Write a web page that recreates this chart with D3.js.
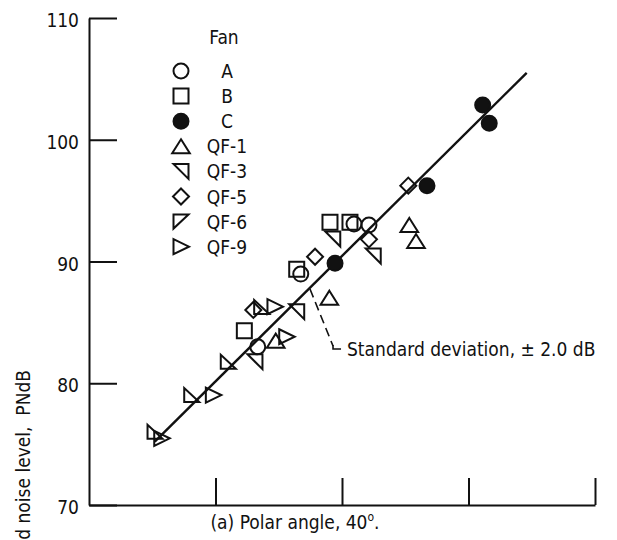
<!DOCTYPE html>
<html>
<head>
<meta charset="utf-8">
<script src="https://cdn.jsdelivr.net/npm/d3@7"></script>
<style>
  html, body { margin: 0; padding: 0; background: #fff; }
  svg { display: block; }
  text { font-family: "DejaVu Sans Condensed", "DejaVu Sans", "Liberation Sans Narrow", sans-serif; font-stretch: condensed; fill: #111; }
</style>
</head>
<body>
<script>
// ---- data ----
const fanNames = ["A", "B", "C", "QF-1", "QF-3", "QF-5", "QF-6", "QF-9"];
const fanA   = [[90.95, 93.08], [92.13, 93.0], [86.74, 88.97], [83.34, 83.0]];
const fanB   = [[89.05, 93.22], [90.63, 93.22], [86.42, 89.36], [82.28, 84.32]];
const fanC   = [[96.72, 96.23], [89.45, 89.85], [101.12, 102.85], [101.64, 101.35]];
const fanQF1 = [[95.32, 93.0], [95.85, 91.68], [89.0, 87.03], [84.76, 83.5]];
const fanQF3 = [[89.27, 91.85], [92.47, 90.45], [86.42, 85.88], [83.12, 81.77]];
const fanQF5 = [[95.24, 96.23], [92.13, 91.82], [87.87, 90.39], [82.99, 86.02]];
const fanQF6 = [[83.65, 86.26], [81.01, 81.77], [78.12, 79.03], [75.22, 76.02]];
const fanQF9 = [[84.70, 86.29], [85.63, 83.82], [79.83, 79.03], [75.75, 75.48]];
const fitLine = [[75.2, 75.2], [104.6, 105.5]];
const xTicks = [80, 90, 100, 110];
const yTicks = [70, 80, 90, 100, 110];
const yLabel = "Perceived noise level,  PNdB";
const caption = "(a) Polar angle, 40";
const annotation = "Standard deviation,  \u00b1 2.0 dB";
const leader = [[87.47, 87.74], [89.29, 83.06]];

const seriesData = [fanA, fanB, fanC, fanQF1, fanQF3, fanQF5, fanQF6, fanQF9];

// ---- glyphs ----
const glyph = {
  "A":    "M7.5,0A7.5,7.5 0 1 1 -7.5,0A7.5,7.5 0 1 1 7.5,0Z",
  "B":    "M-7.5,-7.5H7.5V7.5H-7.5Z",
  "C":    "M7.5,0A7.5,7.5 0 1 1 -7.5,0A7.5,7.5 0 1 1 7.5,0Z",
  "QF-1": "M0,-7L8.8,7H-8.8Z",
  "QF-3": "M-7.5,-7.5H7.5V7.5Z",
  "QF-5": "M0,-8L8,0L0,8L-8,0Z",
  "QF-6": "M-7.5,-7H7.5L-7.5,7Z",
  "QF-9": "M-7.5,-7.5L8,0L-7.5,7.5Z"
};
const dataGlyph = Object.assign({}, glyph, { "QF-6": "M-7.5,-7V7H7.5Z" });

const W = 617, H = 540;
const svg = d3.select("body").append("svg").attr("width", W).attr("height", H);

const x = d3.scaleLinear().domain([70, 110]).range([89, 595]);
const y = d3.scaleLinear().domain([70, 110]).range([505, 18]);

// y axis (ticks pointing inward)
const yAxis = d3.axisLeft(y).tickValues(yTicks).tickSizeInner(-28).tickSizeOuter(0).tickPadding(10).tickFormat(d3.format("d"));
const gy = svg.append("g").attr("transform", `translate(${x(70)},0)`).call(yAxis);
gy.select(".domain").attr("stroke", "#111").attr("stroke-width", 2);
gy.selectAll(".tick line").attr("stroke", "#111").attr("stroke-width", 2);
gy.selectAll(".tick text").attr("font-size", 19).attr("dy", "0.45em").style("font-family", null);

// x axis (ticks pointing up, no labels)
const xAxis = d3.axisBottom(x).tickValues(xTicks).tickSizeInner(-27).tickSizeOuter(0).tickFormat("");
const gx = svg.append("g").attr("transform", `translate(0,${y(70)})`).call(xAxis);
gx.select(".domain").attr("stroke", "#111").attr("stroke-width", 2);
gx.selectAll(".tick line").attr("stroke", "#111").attr("stroke-width", 2);

// fitted line
svg.append("path")
  .attr("d", d3.line().x(d => x(d[0])).y(d => y(d[1]))(fitLine))
  .attr("fill", "none").attr("stroke", "#111").attr("stroke-width", 2.4);

// points
fanNames.forEach((name, i) => {
  svg.append("g").selectAll("path").data(seriesData[i]).join("path")
    .attr("transform", d => `translate(${x(d[0])},${y(d[1])})`)
    .attr("d", dataGlyph[name])
    .attr("fill", name === "C" ? "#111" : "#fff")
    .attr("fill-opacity", name === "C" ? 1 : 0)
    .attr("stroke", "#111").attr("stroke-width", 2)
    .attr("stroke-linejoin", "miter");
});

// leader line for the annotation
const p0 = [x(leader[0][0]), y(leader[0][1])];
const p1 = [x(leader[1][0]), y(leader[1][1])];
svg.append("path")
  .attr("d", `M${p0[0]},${p0[1]}L${p1[0]},${p1[1]}`)
  .attr("stroke", "#111").attr("stroke-width", 1.6).attr("stroke-dasharray", "9,5").attr("fill", "none");
svg.append("path")
  .attr("d", `M${p1[0]},${p1[1] - 1}V${p1[1] + 3}H${p1[0] + 8}`)
  .attr("stroke", "#111").attr("stroke-width", 1.6).attr("fill", "none");
svg.append("text").attr("x", p1[0] + 14).attr("y", p1[1] + 10)
  .attr("font-size", 19).text(annotation);

// legend
const legX = 181, legTextX = 227, legY0 = 71, legStep = 25.1;
svg.append("text").attr("x", 224).attr("y", 44).attr("text-anchor", "middle").attr("font-size", 19).text("Fan");
fanNames.forEach((name, i) => {
  const cy = legY0 + i * legStep;
  svg.append("path").attr("transform", `translate(${legX},${cy})`).attr("d", glyph[name])
    .attr("fill", name === "C" ? "#111" : "none").attr("stroke", "#111").attr("stroke-width", 2);
  svg.append("text").attr("x", legTextX).attr("y", cy + 7).attr("text-anchor", "middle").attr("font-size", 19).text(name);
});

// caption
const cap = svg.append("text").attr("x", 295).attr("y", 529).attr("text-anchor", "middle").attr("font-size", 19);
cap.append("tspan").text(caption);
cap.append("tspan").attr("font-size", 12).attr("dy", -8).text("o");
cap.append("tspan").attr("dy", 8).text(".");

// y label (cut off at the bottom edge, as in the reference)
svg.append("text").attr("transform", `translate(30,370) rotate(-90)`)
  .attr("text-anchor", "end").attr("font-size", 19).style("white-space", "pre").text(yLabel);
</script>
</body>
</html>
